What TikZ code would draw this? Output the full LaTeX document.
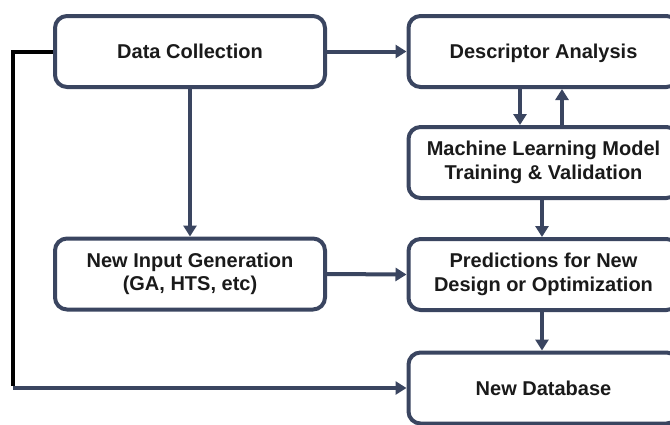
\documentclass[tikz,border=0pt]{standalone}
\usepackage{fontspec}
\setmainfont{Liberation Sans}
\usetikzlibrary{arrows.meta}
\definecolor{boxline}{HTML}{3A4560}
\definecolor{txt}{HTML}{1A1A1A}
\begin{document}
\begin{tikzpicture}[x=1pt,y=-1pt,
  box/.style={draw=boxline, line width=4pt, rounded corners=12pt, fill=white,
    minimum width=270pt, minimum height=71pt, align=center, text=txt,
    font=\fontsize{20}{23.5}\selectfont\bfseries, inner sep=0pt},
  oneline/.style={text height=14.6pt, text depth=0pt},
  arr/.style={draw=boxline, line width=4pt, -{Triangle[length=11pt,width=13pt]}},
  blk/.style={draw=black, line width=4pt}]
\useasboundingbox (0,0) rectangle (670,424);
\clip (0,0) rectangle (670,424);
\fill[white] (0,0) rectangle (670,424);
\node[box,oneline] (dc) at (190,51.5) {Data Collection};
\node[box] (nig) at (190,274) {New Input Generation\\(GA, HTS, etc)};
\node[box,oneline] (da) at (543.5,51.5) {Descriptor Analysis};
\node[box] (ml) at (543.5,162.5) {Machine Learning Model\\Training \& Validation};
\node[box] (pr) at (543.5,274.5) {Predictions for New\\Design or Optimization};
\node[box,oneline] (db) at (543.5,388) {New Database};
\coordinate (c1) at (13,51.5);
\coordinate (c2) at (13,388);
\draw[arr] (dc.east) -- (da.west);
\draw[arr] (dc.south) -- (nig.north);
\draw[arr] (da.south -| 520,0) -- (ml.north -| 520,0);
\draw[arr] (ml.north -| 562,0) -- (da.south -| 562,0);
\draw[arr] (ml.south -| 542,0) -- (pr.north -| 542,0);
\draw[arr] (nig.east) -- (pr.west);
\draw[arr] (pr.south -| 542,0) -- (db.north -| 542,0);
\draw[arr] (c2) -- (db.west);
\draw[blk] (dc.west) -- (c1) -- ([yshift=2pt]c2);
\end{tikzpicture}
\end{document}
